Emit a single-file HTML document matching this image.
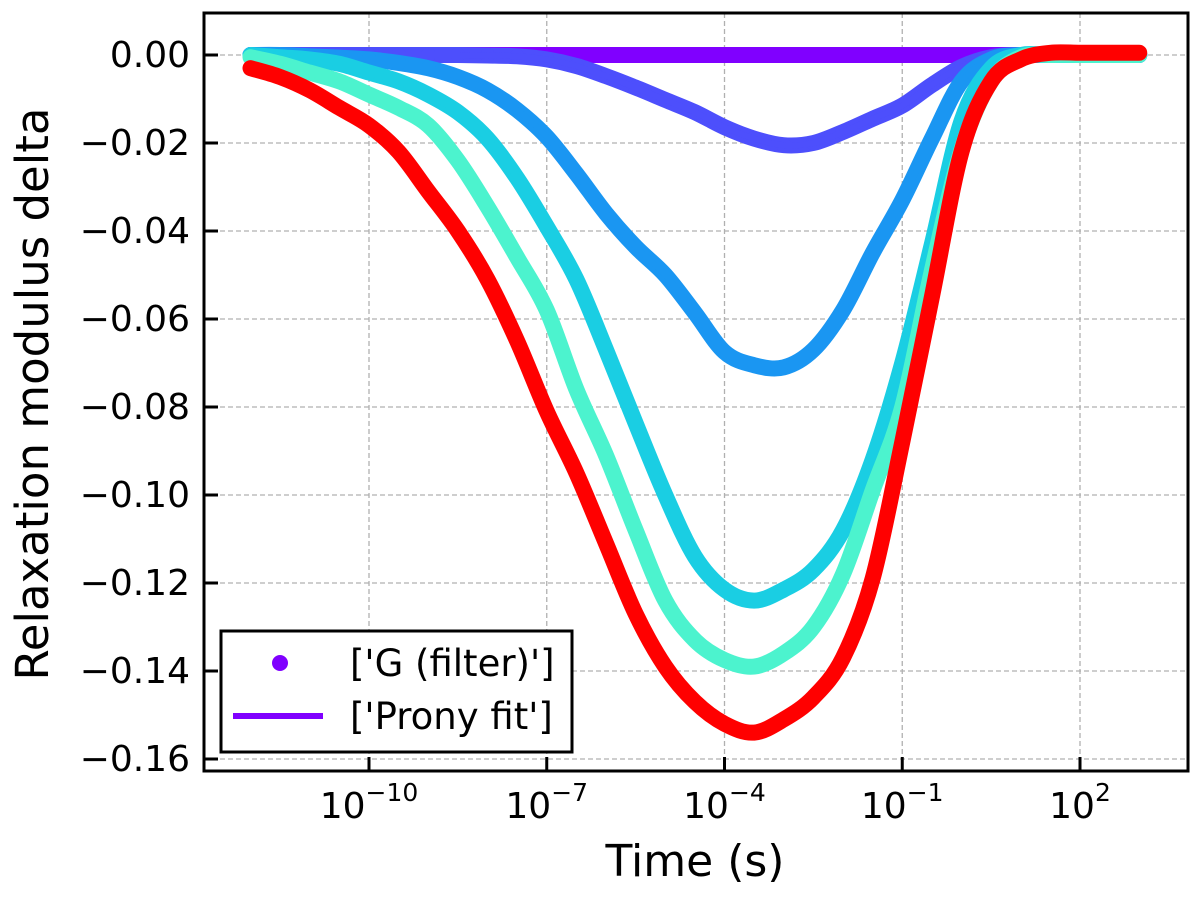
<!DOCTYPE html>
<html><head><meta charset="utf-8"><style>
body{margin:0;background:#fff}
svg{display:block;font-family:"DejaVu Sans","Liberation Sans",sans-serif}
</style></head><body>
<svg id="chart" width="1200" height="900" viewBox="0 0 1200 900">
<rect width="1200" height="900" fill="#fff"/>
<g id="grid"></g>
<g id="series"></g>
<rect x="204" y="13" width="984" height="758" fill="none" stroke="#000" stroke-width="3"/>
<g id="ticks"></g>
<text x="695" y="876" font-size="44" text-anchor="middle">Time (s)</text>
<text transform="translate(48,394) rotate(-90)" font-size="45" text-anchor="middle">Relaxation modulus delta</text>
<g>
<rect x="221" y="631" width="351" height="121" fill="#fff" stroke="#000" stroke-width="3"/>
<circle cx="280" cy="663" r="8" fill="#8000ff"/>
<text x="350" y="676" font-size="37">['G (filter)']</text>
<line x1="233" y1="716" x2="323" y2="716" stroke="#8000ff" stroke-width="6"/>
<text x="350" y="729" font-size="37">['Prony fit']</text>
</g>
</svg>
<script>
const logT = [-12,-11.5,-11,-10.5,-10,-9.5,-9,-8.5,-8,-7.5,-7,-6.5,-6,-5.5,-5,-4.5,-4,-3.5,-3,-2.5,-2,-1.5,-1,-0.5,0,0.5,1,1.5,2,2.5,3];
const colors = ["#8000ff","#4d4ffc","#1a96f2","#1acee3","#4cf3ce","#ff0000"];
const sPurple = [0,0,0,0,0,0,0,0,0,0,0,0,0,0,0,0,0,0,0,0,0,0,0,0,0,0,0,0,0,0,0];
const sIndigo = [0,0,0,0,0,0,0,0,-0.0001,-0.0003,-0.001,-0.0025,-0.0048,-0.0074,-0.0102,-0.013,-0.0164,-0.019,-0.0205,-0.020,-0.0175,-0.0145,-0.0115,-0.0068,-0.0027,-0.0005,0,0,0,0,0];
const sBlue = [0,0,-0.0003,-0.0006,-0.001,-0.0018,-0.003,-0.005,-0.008,-0.0125,-0.0186,-0.027,-0.036,-0.0436,-0.050,-0.0586,-0.0675,-0.0705,-0.071,-0.067,-0.058,-0.045,-0.033,-0.019,-0.006,-0.001,0,0,0,0,0];
const sCyan = [0,-0.0005,-0.001,-0.002,-0.004,-0.006,-0.009,-0.013,-0.019,-0.028,-0.039,-0.051,-0.067,-0.0837,-0.100,-0.114,-0.1215,-0.124,-0.1215,-0.117,-0.108,-0.092,-0.070,-0.043,-0.015,-0.003,0,0,0,0,0];
const sAqua = [-0.0005,-0.002,-0.004,-0.006,-0.009,-0.012,-0.016,-0.024,-0.0345,-0.046,-0.058,-0.076,-0.091,-0.108,-0.124,-0.133,-0.1375,-0.139,-0.136,-0.130,-0.118,-0.099,-0.080,-0.049,-0.0215,-0.006,-0.0005,0,0,0,0];
const sRed = [-0.003,-0.005,-0.008,-0.012,-0.016,-0.022,-0.031,-0.040,-0.051,-0.065,-0.081,-0.095,-0.111,-0.127,-0.139,-0.147,-0.152,-0.154,-0.151,-0.146,-0.137,-0.119,-0.088,-0.055,-0.022,-0.006,-0.001,0.0005,0.0005,0.0005,0.0005];
const seriesList = [sPurple,sIndigo,sBlue,sCyan,sAqua,sRed];
const xTickExp = [-10,-7,-4,-1,2];
const yTicks = [0,-0.02,-0.04,-0.06,-0.08,-0.10,-0.12,-0.14,-0.16];
const yTickLabels = ["0.00","\u22120.02","\u22120.04","\u22120.06","\u22120.08","\u22120.10","\u22120.12","\u22120.14","\u22120.16"];

const NS="http://www.w3.org/2000/svg";
const X = l => 369 + (l + 10) * 59.25;
const Y = v => 55 - v / 0.02 * 88;
function mk(tag, attrs, parent){const e=document.createElementNS(NS,tag);for(const k in attrs)e.setAttribute(k,attrs[k]);parent.appendChild(e);return e;}
const grid=document.getElementById('grid'), ticks=document.getElementById('ticks'), sg=document.getElementById('series');

xTickExp.forEach(ex=>{
  const x=X(ex);
  const g=mk('line',{x1:x,y1:13,x2:x,y2:771,stroke:'#b0b0b0','stroke-width':1.3,'stroke-dasharray':'5,3'},grid);
  
  
  const t=mk('line',{x1:x,y1:771,x2:x,y2:757,stroke:'#000','stroke-width':3},ticks);
  
  
  const tx=mk('text',{x:x,y:818,'font-size':36,'text-anchor':'middle'},ticks);
  
  
  tx.textContent='10';
  const sp=mk('tspan',{dy:-17,'font-size':25},tx);
  sp.textContent=(ex<0?'\u2212':'')+Math.abs(ex);
});
yTicks.forEach((v,i)=>{
  const y=Y(v);
  const g=mk('line',{x1:204,y1:y,x2:1188,y2:y,stroke:'#b0b0b0','stroke-width':1.3,'stroke-dasharray':'5,3'},grid);
  
  
  const t=mk('line',{x1:204,y1:y,x2:218,y2:y,stroke:'#000','stroke-width':3},ticks);
  
  
  const tx=mk('text',{x:190,y:y+12,'font-size':36,'text-anchor':'end'},ticks);
  
  
  tx.textContent=yTickLabels[i];
});

function smoothPath(pts){
  let d=`M${pts[0][0]},${pts[0][1]}`;
  for(let i=0;i<pts.length-1;i++){
    const p0=pts[Math.max(0,i-1)],p1=pts[i],p2=pts[i+1],p3=pts[Math.min(pts.length-1,i+2)];
    const c1=[p1[0]+(p2[0]-p0[0])/6,p1[1]+(p2[1]-p0[1])/6];
    const c2=[p2[0]-(p3[0]-p1[0])/6,p2[1]-(p3[1]-p1[1])/6];
    d+=` C${c1[0]},${c1[1]} ${c2[0]},${c2[1]} ${p2[0]},${p2[1]}`;
  }
  return d;
}
seriesList.forEach((s,si)=>{
  const pts=logT.map((l,i)=>[X(l),Y(s[i])]);
  const band=mk('path',{d:smoothPath(pts),fill:'none',stroke:colors[si],'stroke-width':16,'stroke-linecap':'round','stroke-linejoin':'round'},sg);
  
  
  pts.forEach(p=>{
    const c=mk('circle',{cx:p[0],cy:p[1],r:7.5,fill:colors[si]},sg);
    
    
  });
  const fit=mk('path',{d:smoothPath(pts),fill:'none',stroke:colors[si],'stroke-width':6},sg);
  
  
});
</script>
</body></html>
